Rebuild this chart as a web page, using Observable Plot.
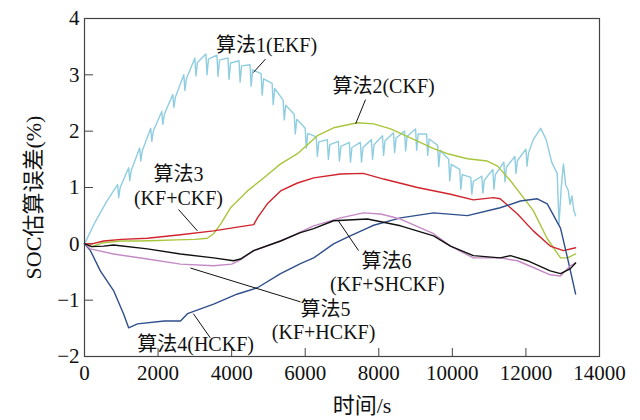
<!DOCTYPE html>
<html>
<head>
<meta charset="utf-8">
<script src="https://cdn.jsdelivr.net/npm/d3@7"></script>
<script src="https://cdn.jsdelivr.net/npm/@observablehq/plot@0.6"></script>
<style>
  html, body { margin: 0; padding: 0; background: #fff; }
  #chart { width: 640px; height: 420px; }
</style>
</head>
<body>
<div id="chart"></div>
<script>
// ---- data (time in s, SOC error in %) ----
const xTicks = [0, 2000, 4000, 6000, 8000, 10000, 12000, 14000];
const yTicks = [-2, -1, 0, 1, 2, 3, 4];

const ekf = [[0,0],[300,0.4],[600,0.75],
[900,1.05],[930,0.82],[970,1.0],
[1200,1.35],[1230,1.12],[1270,1.3],
[1500,1.7],[1530,1.47],[1570,1.65],
[1800,2.05],[1830,1.82],[1870,2.0],
[2100,2.35],[2130,2.12],[2170,2.3],
[2400,2.65],[2430,2.42],[2470,2.6],
[2700,3.0],[2730,2.72],[2770,2.93],
[3000,3.3],[3030,2.98],[3070,3.22],
[3300,3.37],[3330,3.0],[3370,3.28],
[3600,3.35],[3630,2.97],[3670,3.26],
[3900,3.3],[3930,2.92],[3970,3.21],
[4200,3.25],[4230,2.87],[4270,3.16],
[4500,3.18],[4530,2.8],[4570,3.09],
[4800,3.02],[4830,2.64],[4870,2.93],
[5100,2.85],[5130,2.47],[5170,2.76],
[5400,2.55],[5430,2.2],[5470,2.46],
[5700,2.3],[5730,1.95],[5770,2.21],
[6000,2.05],[6030,1.7],[6070,1.96],
[6300,1.9],[6330,1.55],[6370,1.81],
[6600,1.85],[6630,1.5],[6670,1.76],
[6900,1.82],[6930,1.47],[6970,1.73],
[7200,1.8],[7230,1.45],[7270,1.71],
[7500,1.8],[7530,1.45],[7570,1.71],
[7800,1.85],[7830,1.5],[7870,1.76],
[8100,1.92],[8130,1.57],[8170,1.83],
[8400,1.97],[8430,1.62],[8470,1.88],
[8700,2.0],[8730,1.65],[8770,1.91],
[9000,2.04],[9030,1.66],[9070,1.95],
[9300,1.95],[9330,1.57],[9370,1.86],
[9600,1.75],[9630,1.37],[9670,1.66],
[9900,1.5],[9930,1.12],[9970,1.41],
[10200,1.32],[10230,0.97],[10270,1.23],
[10500,1.18],[10530,0.88],[10570,1.11],
[10800,1.2],[10830,0.9],[10870,1.13],
[11100,1.32],[11130,0.97],[11170,1.23],
[11400,1.45],[11430,1.1],[11470,1.36],
[11700,1.55],[11730,1.25],[11770,1.48],
[12000,1.68],[12030,1.38],[12070,1.61],
[12200,1.85],[12400,2.05],[12550,1.85],[12700,1.45],[12850,1.25],
[12900,0.35],[12960,1.0],[13020,1.42],[13080,1.05],[13150,0.95],[13200,0.7],[13250,0.85],[13300,0.6],[13350,0.5]];

const ckf = [[0,0],[200,-0.05],[500,0.02],[1000,0.05],[1500,0.05],[2000,0.06],[2500,0.07],[3000,0.08],[3340,0.1],[3510,0.18],[3700,0.35],[3970,0.64],[4430,0.94],[4870,1.17],[5330,1.42],[5790,1.6],[6330,1.92],[6770,2.06],[7420,2.15],[7860,2.13],[8320,2.04],[8860,1.88],[9490,1.69],[9870,1.6],[10410,1.51],[10950,1.47],[11230,1.38],[11580,1.12],[11930,0.82],[12200,0.59],[12580,0.09],[12940,-0.25],[13130,-0.25],[13350,-0.18]];

const kfCkf = [[0,0],[200,0.0],[520,0.05],[1000,0.08],[1710,0.1],[2610,0.16],[3510,0.23],[4200,0.3],[4600,0.34],[4700,0.46],[4970,0.71],[5330,0.94],[5790,1.08],[6230,1.17],[6960,1.24],[7580,1.25],[8130,1.15],[9050,1.0],[9950,0.88],[10570,0.78],[11120,0.82],[11300,0.8],[11770,0.53],[12200,0.23],[12660,-0.04],[13020,-0.12],[13350,-0.07]];

const hckf = [[0,0],[160,-0.12],[430,-0.48],[790,-0.83],[1060,-1.24],[1200,-1.49],[1440,-1.42],[2170,-1.37],[2610,-1.37],[2800,-1.24],[3510,-1.07],[4160,-0.89],[4700,-0.78],[5330,-0.53],[5870,-0.35],[6230,-0.25],[6770,0.0],[7150,0.12],[7690,0.28],[7860,0.33],[8590,0.46],[9490,0.55],[10410,0.5],[11300,0.64],[11850,0.76],[12310,0.8],[12580,0.71],[12940,0.28],[13130,-0.25],[13350,-0.89]];

const kfHckf = [[0,0],[160,-0.09],[790,-0.18],[1710,-0.27],[2610,-0.36],[3510,-0.39],[4000,-0.36],[4200,-0.3],[4600,-0.12],[5330,0.05],[6230,0.32],[6960,0.46],[7580,0.55],[8050,0.53],[8590,0.44],[9490,0.18],[9950,-0.04],[10570,-0.25],[11300,-0.25],[11770,-0.3],[12200,-0.42],[12660,-0.55],[12940,-0.57],[13210,-0.39],[13350,-0.34]];

const kfShckf = [[0,0],[200,-0.05],[520,-0.04],[790,-0.02],[1710,-0.09],[2610,-0.18],[3510,-0.25],[4050,-0.3],[4240,-0.27],[4600,-0.12],[5330,0.05],[5870,0.2],[6230,0.27],[6770,0.41],[7690,0.44],[8590,0.32],[9490,0.14],[9950,-0.04],[10570,-0.21],[11300,-0.25],[11580,-0.21],[12040,-0.3],[12660,-0.48],[12940,-0.53],[13210,-0.44],[13350,-0.34]];

const seriesNames = ["EKF", "CKF", "KF+CKF", "HCKF", "KF+HCKF", "KF+SHCKF"];
const seriesData = [ekf, ckf, kfCkf, hckf, kfHckf, kfShckf];
const seriesColors = ["#8fcde0", "#a8c63c", "#d0242c", "#2f4e8c", "#c48ac6", "#111111"];

// annotations (data coordinates)
const labelText = ["算法1(EKF)", "算法2(CKF)", "算法3", "(KF+CKF)", "算法6", "(KF+SHCKF)", "算法5", "(KF+HCKF)", "算法4(HCKF)"];
const labelX = [4950, 8130, 2555, 2555, 8210, 8235, 6550, 6500, 3020];
const labelY = [3.52, 2.80, 1.23, 0.81, -0.31, -0.73, -1.16, -1.58, -1.78];
const leaderX1 = [4920, 7640, 2555, 7450, 5870, 3420];
const leaderY1 = [3.28, 2.56, 0.61, -0.12, -1.03, -1.67];
const leaderX2 = [4590, 7370, 3070, 6900, 2880, 2960];
const leaderY2 = [3.04, 2.13, 0.23, 0.41, -0.43, -1.24];

// ---- build tables ----
const rows = [];
seriesData.forEach((arr, i) => arr.forEach(([t, v]) => rows.push({series: seriesNames[i], t, v})));
const labels = labelText.map((s, i) => ({s, x: labelX[i], y: labelY[i]}));
const leaders = leaderX1.map((_, i) => ({x1: leaderX1[i], y1: leaderY1[i], x2: leaderX2[i], y2: leaderY2[i]}));

const font = "'Liberation Serif', 'Times New Roman', 'Noto Sans CJK SC', serif";

const chart = Plot.plot({
  width: 640,
  height: 420,
  marginLeft: 84,
  marginRight: 41,
  marginTop: 18,
  marginBottom: 64,
  style: {fontFamily: font, fontSize: "21px", color: "#111", background: "#fff"},
  x: {domain: [0, 14000]},
  y: {domain: [-2, 4]},
  color: {domain: seriesNames, range: seriesColors},
  marks: [
    Plot.ruleX(xTicks, {x: d => d, insetTop: 330, stroke: "#444", strokeWidth: 1}),
    Plot.ruleY(yTicks, {y: d => d, insetRight: 506, stroke: "#444", strokeWidth: 1}),
    Plot.axisX({ticks: xTicks, tickSize: 0, tickPadding: 9, tickFormat: "d", label: null, fontSize: 21}),
    Plot.axisY({ticks: yTicks, tickSize: 0, tickPadding: 5, tickFormat: "d", label: null, fontSize: 21}),
    Plot.line(rows, {x: "t", y: "v", z: "series", stroke: "series", strokeWidth: 1.4}),
    Plot.link(leaders, {x1: "x1", y1: "y1", x2: "x2", y2: "y2", stroke: "#111", strokeWidth: 1}),
    Plot.text(labels, {x: "x", y: "y", text: "s", fontSize: 20, fill: "#111"}),
    Plot.text(["时间/s"], {frameAnchor: "bottom", textAnchor: "middle", lineAnchor: "middle", dx: 20, dy: 49, fontSize: 22, fill: "#111"}),
    Plot.text(["SOC估算误差(%)"], {frameAnchor: "left", textAnchor: "middle", lineAnchor: "middle", rotate: -90, dx: -51, dy: 10, fontSize: 22, fill: "#111"}),
    Plot.frame({stroke: "#444", strokeWidth: 1.2})
  ]
});
document.getElementById("chart").appendChild(chart);
</script>
</body>
</html>
